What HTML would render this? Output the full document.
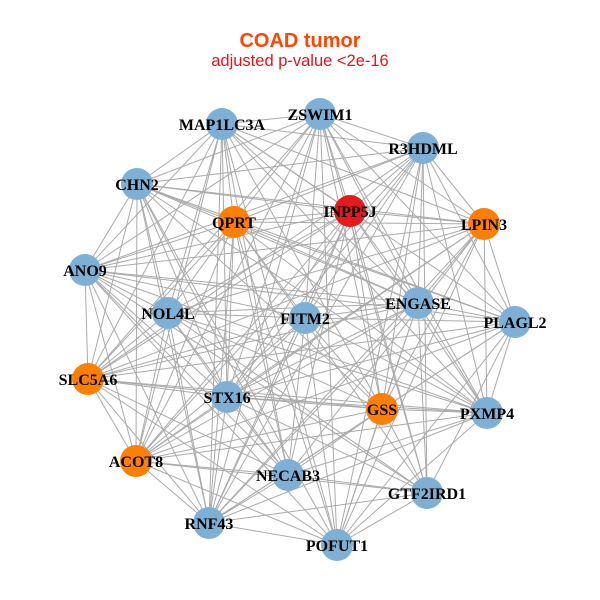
<!DOCTYPE html>
<html><head><meta charset="utf-8"><style>
html,body{margin:0;padding:0;background:#fff;}
svg{display:block;}
</style></head><body>
<svg id="s" width="600" height="600" xmlns="http://www.w3.org/2000/svg">
<text x="300" y="47" text-anchor="middle" font-family="Liberation Sans, sans-serif" font-weight="bold" font-size="20" fill="#FF4500">COAD tumor</text>
<text x="300" y="66" text-anchor="middle" font-family="Liberation Sans, sans-serif" font-size="16.5" fill="#E8131A">adjusted p-value &lt;2e-16</text>
<g id="edges" stroke="#aaaaaa" stroke-width="1"></g>
<g id="nodes"></g>
<g font-family="Liberation Serif, serif" font-weight="bold" font-size="16" fill="#000" text-anchor="middle">
<text x="222" y="130">MAP1LC3A</text>
<text x="320" y="120">ZSWIM1</text>
<text x="423" y="154">R3HDML</text>
<text x="137" y="190">CHN2</text>
<text x="350" y="217">INPP5J</text>
<text x="234" y="228">QPRT</text>
<text x="484" y="230">LPIN3</text>
<text x="85" y="276">ANO9</text>
<text x="168" y="319">NOL4L</text>
<text x="305" y="324">FITM2</text>
<text x="418" y="309">ENGASE</text>
<text x="515" y="328">PLAGL2</text>
<text x="88" y="385">SLC5A6</text>
<text x="227" y="403">STX16</text>
<text x="382" y="415">GSS</text>
<text x="487" y="419">PXMP4</text>
<text x="136" y="467">ACOT8</text>
<text x="288" y="481">NECAB3</text>
<text x="427" y="499">GTF2IRD1</text>
<text x="209" y="529">RNF43</text>
<text x="337" y="551">POFUT1</text>
</g>
</svg>
<script>
var B="#7EB0D5",O="#FF7F00",R="#E41A1C";
var n=[[222,124,B],[320,114,B],[423,148,B],[137,184,B],[350,211,R],[234,222,O],[484,224,O],[85,270,B],[168,313,B],[305,318,B],[418,303,B],[515,322,B],[88,379,O],[227,397,B],[382,409,O],[487,413,B],[136,461,O],[288,475,B],[427,493,B],[209,523,B],[337,545,B]];
var ns="http://www.w3.org/2000/svg",e=document.getElementById("edges"),g=document.getElementById("nodes");
var k=0;
for(var i=0;i<n.length;i++)for(var j=i+1;j<n.length;j++){k++;if(k%9==0)continue;
var l=document.createElementNS(ns,"line");l.setAttribute("x1",n[i][0]);l.setAttribute("y1",n[i][1]);l.setAttribute("x2",n[j][0]);l.setAttribute("y2",n[j][1]);e.appendChild(l);}
n.forEach(function(p){var c=document.createElementNS(ns,"circle");c.setAttribute("cx",p[0]);c.setAttribute("cy",p[1]);c.setAttribute("r",16);c.setAttribute("fill",p[2]);g.appendChild(c);});
</script>
</body></html>
